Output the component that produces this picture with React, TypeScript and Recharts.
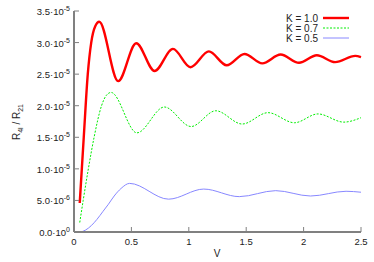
import React from 'react';
import { LineChart, Line, XAxis, YAxis } from 'recharts';

// x axis: V, y axis: R41 / R21
const xTicks = [0, 0.5, 1, 1.5, 2, 2.5];
const yTicks = [0, 5e-6, 1e-5, 1.5e-5, 2e-5, 2.5e-5, 3e-5, 3.5e-5];

const k10V = [0.05, 0.085, 0.12, 0.15, 0.185, 0.22, 0.385, 0.542, 0.702, 0.862, 1.015, 1.175, 1.33, 1.485, 1.64, 1.8, 1.96, 2.115, 2.275, 2.45, 2.5];
const k10R = [0.46e-5, 1.5e-5, 2.5e-5, 3.0e-5, 3.26e-5, 3.33e-5, 2.39e-5, 2.99e-5, 2.55e-5, 2.9e-5, 2.61e-5, 2.86e-5, 2.64e-5, 2.82e-5, 2.67e-5, 2.81e-5, 2.68e-5, 2.8e-5, 2.69e-5, 2.79e-5, 2.77e-5];

const k07V = [0.05, 0.08, 0.125, 0.175, 0.24, 0.28, 0.323, 0.548, 0.787, 1.02, 1.235, 1.465, 1.69, 1.92, 2.125, 2.35, 2.5];
const k07R = [0.15e-5, 0.5e-5, 1.0e-5, 1.5e-5, 2.0e-5, 2.16e-5, 2.21e-5, 1.57e-5, 1.98e-5, 1.67e-5, 1.92e-5, 1.71e-5, 1.89e-5, 1.73e-5, 1.87e-5, 1.74e-5, 1.81e-5];

const k05V = [0.06, 0.1, 0.15, 0.2, 0.25, 0.3, 0.35, 0.41, 0.484, 0.824, 1.13, 1.44, 1.757, 2.06, 2.37, 2.5];
const k05R = [0.0, 0.03e-5, 0.1e-5, 0.2e-5, 0.32e-5, 0.44e-5, 0.57e-5, 0.69e-5, 0.77e-5, 0.52e-5, 0.68e-5, 0.56e-5, 0.655e-5, 0.57e-5, 0.645e-5, 0.63e-5];

const seriesNames = ['K = 1.0', 'K = 0.7', 'K = 0.5'];

const rows = (xs: number[], ys: number[]) => xs.map((v, i) => ({ v, r: ys[i] }));

const FONT = '"Liberation Sans", Arial, sans-serif';
const FRAME = '#808080';
const TEXT = '#222';

const sci = (v: number) => {
  if (v === 0) return { m: '0.0', e: '0' };
  const e = Math.floor(Math.log10(v) + 1e-9);
  return { m: (v / Math.pow(10, e)).toFixed(1), e: String(e) };
};

const BottomTick = (props: any) => {
  const { x, y, payload } = props;
  return (
    <g>
      <line x1={x} y1={y} x2={x} y2={y - 5} stroke={FRAME} />
      <text x={x} y={y + 13} textAnchor="middle" fontSize={9.5} fontFamily={FONT} fill={TEXT}>
        {payload.value}
      </text>
    </g>
  );
};

const TopTick = (props: any) => {
  const { x, y } = props;
  return <line x1={x} y1={y} x2={x} y2={y + 5} stroke={FRAME} />;
};

const LeftTick = (props: any) => {
  const { x, y, payload } = props;
  const { m, e } = sci(payload.value);
  return (
    <g>
      <line x1={x} y1={y} x2={x + 5} y2={y} stroke={FRAME} />
      <text x={x - 4} y={y + 4} textAnchor="end" fontSize={9.5} fontFamily={FONT} fill={TEXT}>
        {m}·10
        <tspan dy={-4} fontSize={7}>{e}</tspan>
      </text>
    </g>
  );
};

const RightTick = (props: any) => {
  const { x, y } = props;
  return <line x1={x} y1={y} x2={x - 5} y2={y} stroke={FRAME} />;
};

const legendStyles = [
  { stroke: '#ff0000', width: 2.4, dash: undefined },
  { stroke: '#00ee00', width: 1, dash: '2 1.5' },
  { stroke: '#8888ff', width: 1, dash: undefined },
];

export default function App() {
  return (
    <div style={{ position: 'absolute', left: 0, top: 0, width: 374, height: 262, background: '#fff' }}>
      <LineChart width={374} height={262} margin={{ top: 11, right: 13, left: 0, bottom: 0 }}>
        <XAxis
          xAxisId="b"
          dataKey="v"
          type="number"
          domain={[0, 2.5]}
          ticks={xTicks}
          interval={0}
          height={30}
          tickSize={0}
          tickMargin={0}
          tickLine={false}
          tick={<BottomTick />}
          axisLine={{ stroke: FRAME, strokeWidth: 2 }}
        />
        <XAxis
          xAxisId="t"
          orientation="top"
          dataKey="v"
          type="number"
          domain={[0, 2.5]}
          ticks={xTicks}
          interval={0}
          height={0}
          tickSize={0}
          tickMargin={0}
          tickLine={false}
          tick={<TopTick />}
          axisLine={{ stroke: FRAME, strokeWidth: 2 }}
        />
        <YAxis
          yAxisId="l"
          type="number"
          domain={[0, 3.5e-5]}
          ticks={yTicks}
          interval={0}
          width={74}
          tickSize={0}
          tickMargin={0}
          tickLine={false}
          tick={<LeftTick />}
          axisLine={{ stroke: FRAME, strokeWidth: 2 }}
        />
        <YAxis
          yAxisId="r"
          orientation="right"
          type="number"
          domain={[0, 3.5e-5]}
          ticks={yTicks}
          interval={0}
          width={0}
          tickSize={0}
          tickMargin={0}
          tickLine={false}
          tick={<RightTick />}
          axisLine={{ stroke: FRAME, strokeWidth: 2 }}
        />
        <Line
          xAxisId="b"
          yAxisId="l"
          data={rows(k10V, k10R)}
          dataKey="r"
          type="monotone"
          stroke="#ff0000"
          strokeWidth={2.4}
          dot={false}
          isAnimationActive={false}
        />
        <Line
          xAxisId="b"
          yAxisId="l"
          data={rows(k07V, k07R)}
          dataKey="r"
          type="monotone"
          stroke="#00ee00"
          strokeWidth={1}
          strokeDasharray="2 1.5"
          dot={false}
          isAnimationActive={false}
        />
        <Line
          xAxisId="b"
          yAxisId="l"
          data={rows(k05V, k05R)}
          dataKey="r"
          type="monotone"
          stroke="#8888ff"
          strokeWidth={1}
          dot={false}
          isAnimationActive={false}
        />
      </LineChart>
      <svg width={374} height={262} style={{ position: 'absolute', left: 0, top: 0, pointerEvents: 'none' }}>
        <text x={217} y={257} textAnchor="middle" fontSize={10} fontFamily={FONT} fill={TEXT}>V</text>
        <text
          transform="translate(20,122) rotate(-90)"
          textAnchor="middle"
          fontSize={10}
          fontFamily={FONT}
          fill={TEXT}
        >
          R<tspan dy={3} fontSize={7}>4l</tspan>
          <tspan dy={-3}> / R</tspan>
          <tspan dy={3} fontSize={7}>21</tspan>
        </text>
        {seriesNames.map((name, i) => (
          <g key={name}>
            <text x={318} y={21.5 + i * 10} textAnchor="end" fontSize={10} fontFamily={FONT} fill={TEXT}>
              {name}
            </text>
            <line
              x1={323}
              x2={349}
              y1={18 + i * 10}
              y2={18 + i * 10}
              stroke={legendStyles[i].stroke}
              strokeWidth={legendStyles[i].width}
              strokeDasharray={legendStyles[i].dash}
            />
          </g>
        ))}
      </svg>
    </div>
  );
}
